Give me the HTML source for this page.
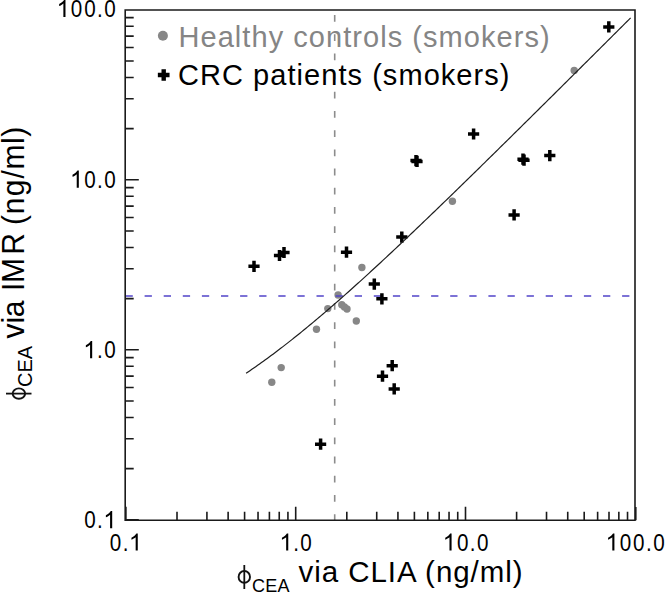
<!DOCTYPE html>
<html><head><meta charset="utf-8"><style>
html,body{margin:0;padding:0;background:#fff;}
body{width:666px;height:593px;overflow:hidden;}
svg{display:block;}
text{font-family:"Liberation Sans",sans-serif;}
.tl{font-size:24px;fill:#000;}
.lg{font-size:29px;letter-spacing:1.05px;}
.ti{font-size:29.5px;fill:#000;letter-spacing:0.95px;}
.ti2{font-size:30px;fill:#000;letter-spacing:0.55px;}
.sub{font-size:18px;fill:#000;letter-spacing:0.3px;}
.sub2{font-size:20px;fill:#000;}
</style></head><body>
<svg width="666" height="593" viewBox="0 0 666 593">
<circle cx="271.8" cy="382.3" r="3.7" fill="#878787"/>
<circle cx="281.2" cy="367.6" r="3.7" fill="#878787"/>
<circle cx="316.5" cy="329.3" r="3.7" fill="#878787"/>
<circle cx="327.8" cy="308.6" r="3.7" fill="#878787"/>
<circle cx="338.1" cy="295" r="3.7" fill="#878787"/>
<circle cx="341.8" cy="304.8" r="3.7" fill="#878787"/>
<circle cx="344.4" cy="306.9" r="3.7" fill="#878787"/>
<circle cx="347" cy="309" r="3.7" fill="#878787"/>
<circle cx="356.3" cy="321" r="3.7" fill="#878787"/>
<circle cx="361.9" cy="267.5" r="3.7" fill="#878787"/>
<circle cx="452.4" cy="201.2" r="3.7" fill="#878787"/>
<circle cx="574.2" cy="70.4" r="3.7" fill="#878787"/>
<line x1="125.5" y1="296" x2="635" y2="296" stroke="#5244c9" stroke-width="1.7" stroke-dasharray="7.3 11.8"/>
<line x1="334.7" y1="521" x2="334.7" y2="10" stroke="#8c8c8c" stroke-width="1.6" stroke-dasharray="6.8 12.4"/>
<path d="M603.20 25.15h11.2v3.5h-11.2z M607.05 21.30h3.5v11.2h-3.5z" fill="#000"/>
<path d="M468.00 132.25h11.2v3.5h-11.2z M471.85 128.40h3.5v11.2h-3.5z" fill="#000"/>
<path d="M410.40 158.85h11.2v3.5h-11.2z M414.25 155.00h3.5v11.2h-3.5z" fill="#000"/>
<path d="M411.40 159.65h11.2v3.5h-11.2z M415.25 155.80h3.5v11.2h-3.5z" fill="#000"/>
<path d="M517.40 157.45h11.2v3.5h-11.2z M521.25 153.60h3.5v11.2h-3.5z" fill="#000"/>
<path d="M518.40 158.45h11.2v3.5h-11.2z M522.25 154.60h3.5v11.2h-3.5z" fill="#000"/>
<path d="M544.20 153.85h11.2v3.5h-11.2z M548.05 150.00h3.5v11.2h-3.5z" fill="#000"/>
<path d="M508.50 213.15h11.2v3.5h-11.2z M512.35 209.30h3.5v11.2h-3.5z" fill="#000"/>
<path d="M396.20 235.35h11.2v3.5h-11.2z M400.05 231.50h3.5v11.2h-3.5z" fill="#000"/>
<path d="M340.90 250.45h11.2v3.5h-11.2z M344.75 246.60h3.5v11.2h-3.5z" fill="#000"/>
<path d="M368.70 282.35h11.2v3.5h-11.2z M372.55 278.50h3.5v11.2h-3.5z" fill="#000"/>
<path d="M376.30 297.05h11.2v3.5h-11.2z M380.15 293.20h3.5v11.2h-3.5z" fill="#000"/>
<path d="M248.40 264.55h11.2v3.5h-11.2z M252.25 260.70h3.5v11.2h-3.5z" fill="#000"/>
<path d="M273.90 253.75h11.2v3.5h-11.2z M277.75 249.90h3.5v11.2h-3.5z" fill="#000"/>
<path d="M278.40 250.75h11.2v3.5h-11.2z M282.25 246.90h3.5v11.2h-3.5z" fill="#000"/>
<path d="M386.60 363.95h11.2v3.5h-11.2z M390.45 360.10h3.5v11.2h-3.5z" fill="#000"/>
<path d="M376.90 374.45h11.2v3.5h-11.2z M380.75 370.60h3.5v11.2h-3.5z" fill="#000"/>
<path d="M388.60 387.15h11.2v3.5h-11.2z M392.45 383.30h3.5v11.2h-3.5z" fill="#000"/>
<path d="M315.00 442.45h11.2v3.5h-11.2z M318.85 438.60h3.5v11.2h-3.5z" fill="#000"/>
<polyline points="246.10,373.30 248.02,372.00 249.94,370.69 251.87,369.37 253.79,368.04 255.71,366.70 257.63,365.35 259.56,363.99 261.48,362.61 263.40,361.23 265.32,359.84 267.25,358.44 269.17,357.02 271.09,355.60 273.01,354.17 274.94,352.73 276.86,351.28 278.78,349.82 280.70,348.35 282.63,346.87 284.55,345.39 286.47,343.89 288.39,342.39 290.32,340.87 292.24,339.35 294.16,337.83 296.08,336.29 298.01,334.74 299.93,333.19 301.85,331.63 303.77,330.06 305.70,328.49 307.62,326.90 309.54,325.31 311.46,323.72 313.39,322.11 315.31,320.50 317.23,318.88 319.15,317.26 321.08,315.63 323.00,313.99 324.92,312.35 326.85,310.70 328.77,309.04 330.69,307.38 332.61,305.71 334.53,304.04 336.46,302.36 338.38,300.68 340.30,298.99 342.23,297.29 344.15,295.59 346.07,293.89 347.99,292.18 349.91,290.46 351.84,288.74 353.76,287.02 355.68,285.29 357.61,283.56 359.53,281.82 361.45,280.08 363.37,278.33 365.29,276.58 367.22,274.83 369.14,273.07 371.06,271.30 372.99,269.54 374.91,267.77 376.83,266.00 378.75,264.22 380.67,262.44 382.60,260.65 384.52,258.87 386.44,257.08 388.37,255.28 390.29,253.49 392.21,251.69 394.13,249.88 396.06,248.08 397.98,246.27 399.90,244.46 401.82,242.65 403.75,240.83 405.67,239.01 407.59,237.19 409.51,235.36 411.44,233.54 413.36,231.71 415.28,229.88 417.20,228.04 419.12,226.21 421.05,224.37 422.97,222.53 424.89,220.69 426.81,218.85 428.74,217.00 430.66,215.15 432.58,213.30 434.50,211.45 436.43,209.60 438.35,207.74 440.27,205.89 442.19,204.03 444.12,202.17 446.04,200.31 447.96,198.45 449.88,196.58 451.81,194.72 453.73,192.85 455.65,190.98 457.57,189.11 459.50,187.24 461.42,185.37 463.34,183.49 465.26,181.62 467.19,179.74 469.11,177.86 471.03,175.99 472.95,174.11 474.88,172.23 476.80,170.34 478.72,168.46 480.64,166.58 482.57,164.69 484.49,162.81 486.41,160.92 488.34,159.03 490.26,157.15 492.18,155.26 494.10,153.37 496.02,151.48 497.95,149.58 499.87,147.69 501.79,145.80 503.72,143.90 505.64,142.01 507.56,140.11 509.48,138.22 511.40,136.32 513.33,134.42 515.25,132.53 517.17,130.63 519.10,128.73 521.02,126.83 522.94,124.93 524.86,123.03 526.78,121.13 528.71,119.22 530.63,117.32 532.55,115.42 534.48,113.51 536.40,111.61 538.32,109.71 540.24,107.80 542.16,105.89 544.09,103.99 546.01,102.08 547.93,100.18 549.86,98.27 551.78,96.36 553.70,94.45 555.62,92.55 557.54,90.64 559.47,88.73 561.39,86.82 563.31,84.91 565.24,83.00 567.16,81.09 569.08,79.18 571.00,77.27 572.92,75.36 574.85,73.44 576.77,71.53 578.69,69.62 580.62,67.71 582.54,65.80 584.46,63.88 586.38,61.97 588.30,60.06 590.23,58.14 592.15,56.23 594.07,54.31 596.00,52.40 597.92,50.49 599.84,48.57 601.76,46.66 603.68,44.74 605.61,42.83 607.53,40.91 609.45,39.00 611.38,37.08 613.30,35.16 615.22,33.25 617.14,31.33 619.06,29.41 620.99,27.50 622.91,25.58 624.83,23.66 626.75,21.75 628.68,19.83 630.60,17.91" fill="none" stroke="#1e1e1e" stroke-width="1.2"/>
<path d="M125.2 10H635V520.3H125.2Z" fill="none" stroke="#1a1a1a" stroke-width="1.6"/>
<path d="M125.2 519.80h13.6 M125.90 520.3v-13.6 M125.2 468.62h8.5 M177.01 520.3v-8.5 M125.2 438.69h8.5 M206.92 520.3v-8.5 M125.2 417.45h8.5 M228.13 520.3v-8.5 M125.2 400.98h8.5 M244.59 520.3v-8.5 M125.2 387.51h8.5 M258.03 520.3v-8.5 M125.2 376.13h8.5 M269.40 520.3v-8.5 M125.2 366.27h8.5 M279.24 520.3v-8.5 M125.2 357.58h8.5 M287.93 520.3v-8.5 M125.2 349.80h13.6 M295.70 520.3v-13.6 M125.2 298.62h8.5 M346.81 520.3v-8.5 M125.2 268.69h8.5 M376.72 520.3v-8.5 M125.2 247.45h8.5 M397.93 520.3v-8.5 M125.2 230.98h8.5 M414.39 520.3v-8.5 M125.2 217.51h8.5 M427.83 520.3v-8.5 M125.2 206.13h8.5 M439.20 520.3v-8.5 M125.2 196.27h8.5 M449.04 520.3v-8.5 M125.2 187.58h8.5 M457.73 520.3v-8.5 M125.2 179.80h13.6 M465.50 520.3v-13.6 M125.2 128.62h8.5 M516.61 520.3v-8.5 M125.2 98.69h8.5 M546.52 520.3v-8.5 M125.2 77.45h8.5 M567.73 520.3v-8.5 M125.2 60.98h8.5 M584.19 520.3v-8.5 M125.2 47.51h8.5 M597.63 520.3v-8.5 M125.2 36.13h8.5 M609.00 520.3v-8.5 M125.2 26.27h8.5 M618.84 520.3v-8.5 M125.2 17.58h8.5 M627.53 520.3v-8.5 M635.8 520.3v-13.2" stroke="#1a1a1a" stroke-width="1.6" fill="none"/>
<path transform="translate(56.54,17.00) scale(0.011719,-0.011719)" d="M583 1147Q518 1085 415 1024.5Q312 964 223 931L223 1105Q374 1176 484.5 1274Q595 1372 646 1466L763 1466L763 0L583 0Z"/><text transform="translate(76.56,17.00) scale(0.86,1)" text-anchor="middle" class="tl">0</text><text transform="translate(89.91,17.00) scale(0.86,1)" text-anchor="middle" class="tl">0</text><text transform="translate(99.92,17.00) scale(0.86,1)" text-anchor="middle" class="tl">.</text><text transform="translate(109.93,17.00) scale(0.86,1)" text-anchor="middle" class="tl">0</text>
<path transform="translate(69.89,187.70) scale(0.011719,-0.011719)" d="M583 1147Q518 1085 415 1024.5Q312 964 223 931L223 1105Q374 1176 484.5 1274Q595 1372 646 1466L763 1466L763 0L583 0Z"/><text transform="translate(89.91,187.70) scale(0.86,1)" text-anchor="middle" class="tl">0</text><text transform="translate(99.92,187.70) scale(0.86,1)" text-anchor="middle" class="tl">.</text><text transform="translate(109.93,187.70) scale(0.86,1)" text-anchor="middle" class="tl">0</text>
<path transform="translate(83.24,358.20) scale(0.011719,-0.011719)" d="M583 1147Q518 1085 415 1024.5Q312 964 223 931L223 1105Q374 1176 484.5 1274Q595 1372 646 1466L763 1466L763 0L583 0Z"/><text transform="translate(99.92,358.20) scale(0.86,1)" text-anchor="middle" class="tl">.</text><text transform="translate(109.93,358.20) scale(0.86,1)" text-anchor="middle" class="tl">0</text>
<text transform="translate(89.91,528.20) scale(0.86,1)" text-anchor="middle" class="tl">0</text><text transform="translate(99.92,528.20) scale(0.86,1)" text-anchor="middle" class="tl">.</text><path transform="translate(103.25,528.20) scale(0.011719,-0.011719)" d="M583 1147Q518 1085 415 1024.5Q312 964 223 931L223 1105Q374 1176 484.5 1274Q595 1372 646 1466L763 1466L763 0L583 0Z"/>
<text transform="translate(115.49,550.60) scale(0.86,1)" text-anchor="middle" class="tl">0</text><text transform="translate(125.50,550.60) scale(0.86,1)" text-anchor="middle" class="tl">.</text><path transform="translate(128.83,550.60) scale(0.011719,-0.011719)" d="M583 1147Q518 1085 415 1024.5Q312 964 223 931L223 1105Q374 1176 484.5 1274Q595 1372 646 1466L763 1466L763 0L583 0Z"/>
<path transform="translate(279.32,550.60) scale(0.011719,-0.011719)" d="M583 1147Q518 1085 415 1024.5Q312 964 223 931L223 1105Q374 1176 484.5 1274Q595 1372 646 1466L763 1466L763 0L583 0Z"/><text transform="translate(296.00,550.60) scale(0.86,1)" text-anchor="middle" class="tl">.</text><text transform="translate(306.01,550.60) scale(0.86,1)" text-anchor="middle" class="tl">0</text>
<path transform="translate(442.64,550.60) scale(0.011719,-0.011719)" d="M583 1147Q518 1085 415 1024.5Q312 964 223 931L223 1105Q374 1176 484.5 1274Q595 1372 646 1466L763 1466L763 0L583 0Z"/><text transform="translate(462.67,550.60) scale(0.86,1)" text-anchor="middle" class="tl">0</text><text transform="translate(472.67,550.60) scale(0.86,1)" text-anchor="middle" class="tl">.</text><text transform="translate(482.68,550.60) scale(0.86,1)" text-anchor="middle" class="tl">0</text>
<path transform="translate(605.47,550.60) scale(0.011719,-0.011719)" d="M583 1147Q518 1085 415 1024.5Q312 964 223 931L223 1105Q374 1176 484.5 1274Q595 1372 646 1466L763 1466L763 0L583 0Z"/><text transform="translate(625.49,550.60) scale(0.86,1)" text-anchor="middle" class="tl">0</text><text transform="translate(638.84,550.60) scale(0.86,1)" text-anchor="middle" class="tl">0</text><text transform="translate(648.85,550.60) scale(0.86,1)" text-anchor="middle" class="tl">.</text><text transform="translate(658.86,550.60) scale(0.86,1)" text-anchor="middle" class="tl">0</text>
<circle cx="162.9" cy="35.8" r="5" fill="#878787"/>
<text x="178.5" y="46.6" class="lg" fill="#858585">Healthy controls (smokers)</text>
<path d="M157.85 72.80h11.7v4.4h-11.7z M161.50 69.15h4.4v11.7h-4.4z" fill="#000"/>
<text x="178" y="85.4" class="lg" fill="#000">CRC patients (smokers)</text>
<ellipse cx="244.3" cy="576.9" rx="5.7" ry="5.9" fill="none" stroke="#111" stroke-width="1.9"/><line x1="244.3" y1="565" x2="244.3" y2="589" stroke="#111" stroke-width="1.8"/>
<text x="252" y="591.8" class="sub">CEA</text>
<text x="298.5" y="582" class="ti">via CLIA (ng/ml)</text>
<g transform="translate(24.4,0) rotate(-90)">
<ellipse cx="-393.6" cy="-5.5" rx="5.2" ry="6.25" fill="none" stroke="#111" stroke-width="1.9"/><line x1="-393.6" y1="-18.4" x2="-393.6" y2="7.1" stroke="#111" stroke-width="1.8"/>
<text x="-387" y="7.4" class="sub2">CEA</text>
<text x="-338.4 -323.6 -317.2 -299 -290.9 -282.9 -254.8 -233 -224.9 -214.3 -196.3 -178.5 -169.6 -144 -136.8" y="0" class="ti2" transform="scale(1,1.06)">via IMR (ng/ml)</text>
</g>
</svg>
</body></html>
